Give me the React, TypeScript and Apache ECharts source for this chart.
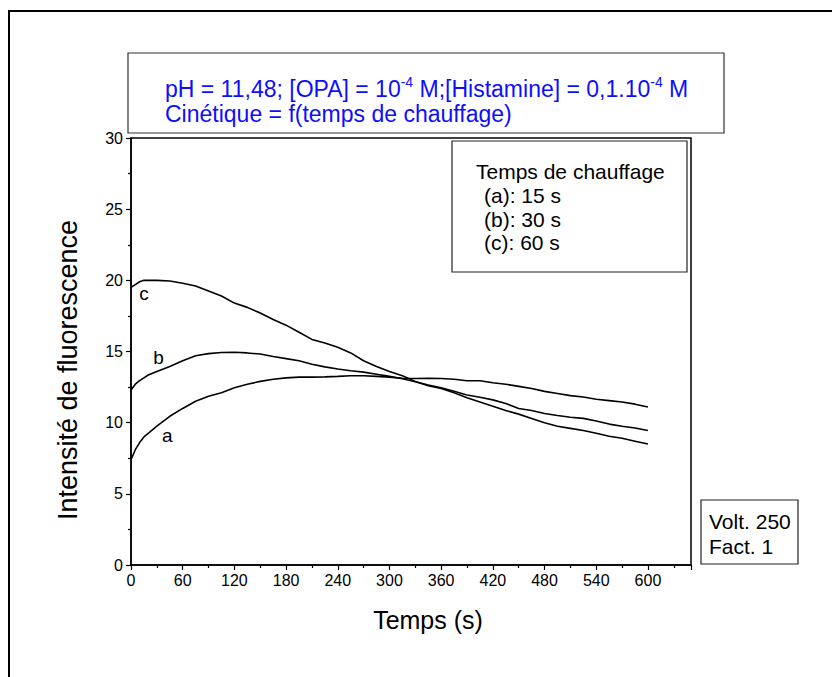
import React, { useEffect, useRef } from "react";
import * as echarts from "echarts";

const times = [0, 5, 10, 15, 20, 30, 45, 60, 75, 90, 105, 120, 135, 150, 165, 180, 195, 210, 225, 240, 255, 270, 285, 300, 315, 330, 345, 360, 375, 390, 405, 420, 435, 450, 465, 480, 495, 510, 525, 540, 555, 570, 585, 600];

const curveA = [7.4, 8.1, 8.6, 9.0, 9.25, 9.75, 10.45, 11.0, 11.5, 11.85, 12.1, 12.45, 12.7, 12.9, 13.05, 13.15, 13.2, 13.2, 13.22, 13.25, 13.3, 13.3, 13.25, 13.2, 13.12, 13.1, 13.12, 13.1, 13.05, 12.95, 12.95, 12.8, 12.7, 12.55, 12.4, 12.2, 12.05, 11.9, 11.8, 11.65, 11.55, 11.45, 11.3, 11.1];

const curveB = [12.3, 12.7, 12.95, 13.15, 13.35, 13.6, 13.95, 14.35, 14.7, 14.85, 14.93, 14.95, 14.9, 14.82, 14.65, 14.5, 14.35, 14.1, 13.92, 13.77, 13.65, 13.55, 13.4, 13.25, 13.08, 12.88, 12.65, 12.45, 12.2, 11.95, 11.78, 11.6, 11.35, 11.0, 10.85, 10.65, 10.5, 10.38, 10.3, 10.12, 9.9, 9.75, 9.62, 9.45];

const curveC = [19.5, 19.7, 19.9, 20.0, 20.0, 20.0, 19.95, 19.8, 19.6, 19.25, 18.9, 18.4, 18.1, 17.7, 17.25, 16.85, 16.35, 15.85, 15.6, 15.3, 14.9, 14.35, 13.95, 13.6, 13.3, 12.9, 12.6, 12.4, 12.1, 11.75, 11.45, 11.15, 10.85, 10.6, 10.3, 10.0, 9.75, 9.6, 9.45, 9.25, 9.05, 8.9, 8.7, 8.5];

const curveNames = ["a", "b", "c"];
const curveLabelPos = [
  [42, 9.07],
  [32, 14.55],
  [15, 19.1],
];

const xAxisTitle = "Temps (s)";
const yAxisTitle = "Intensité de fluorescence";
const legendLines = ["Temps de chauffage", "(a): 15 s", "(b): 30 s", "(c): 60 s"];
const infoLines = ["Volt. 250", "Fact. 1"];

const FONT = "'Liberation Sans', Arial, sans-serif";
const BLUE = "#0d0dff";

export default function App() {
  const ref = useRef<HTMLDivElement>(null);

  useEffect(() => {
    if (!ref.current) return;
    const chart = echarts.init(ref.current, null, { renderer: "svg" });
    const allCurves = [curveA, curveB, curveC];

    const series = allCurves.map((vals, i) => ({
      name: curveNames[i],
      type: "line",
      data: times.map((t, k) => [t, vals[k]]),
      showSymbol: false,
      symbol: "none",
      lineStyle: { color: "#000", width: 1.6 },
      itemStyle: { color: "#000" },
      silent: true,
      markPoint: {
        symbol: "circle",
        symbolSize: 0,
        silent: true,
        data: [
          {
            coord: curveLabelPos[i],
            label: {
              show: true,
              formatter: curveNames[i],
              color: "#000",
              fontFamily: FONT,
              fontSize: 19,
              position: "inside",
            },
          },
        ],
      },
    }));

    const option = {
      animation: false,
      backgroundColor: "#fff",
      textStyle: { fontFamily: FONT },
      grid: {
        left: 131,
        top: 138,
        right: 141,
        bottom: 112,
        show: true,
        borderColor: "#000",
        borderWidth: 1.5,
        backgroundColor: "transparent",
      },
      xAxis: {
        type: "value",
        min: 0,
        max: 650,
        interval: 60,
        axisLine: { show: true, onZero: false, lineStyle: { color: "#000", width: 1.5 } },
        axisTick: { show: true, inside: false, length: 5, lineStyle: { color: "#000", width: 1.2 } },
        minorTick: { show: true, splitNumber: 2, length: 3, lineStyle: { color: "#000", width: 1.2 } },
        axisLabel: { color: "#000", fontSize: 16, margin: 7, showMaxLabel: false, fontFamily: FONT },
        splitLine: { show: false },
      },
      yAxis: {
        type: "value",
        min: 0,
        max: 30,
        interval: 5,
        axisLine: { show: true, onZero: false, lineStyle: { color: "#000", width: 1.5 } },
        axisTick: { show: true, inside: false, length: 5, lineStyle: { color: "#000", width: 1.2 } },
        minorTick: { show: true, splitNumber: 2, length: 3, lineStyle: { color: "#000", width: 1.2 } },
        axisLabel: { color: "#000", fontSize: 16, margin: 8, fontFamily: FONT },
        splitLine: { show: false },
      },
      series,
      graphic: [
        {
          type: "rect",
          shape: { x: 9, y: 11, width: 900, height: 800 },
          style: { fill: "none", stroke: "#000", lineWidth: 2 },
          silent: true,
          z: 0,
        },
        {
          type: "text",
          x: 428,
          y: 620,
          silent: true,
          style: {
            text: xAxisTitle,
            fill: "#000",
            fontFamily: FONT,
            fontSize: 25,
            align: "center",
            verticalAlign: "middle",
          },
        },
        {
          type: "text",
          x: 68,
          y: 370,
          rotation: Math.PI / 2,
          silent: true,
          style: {
            text: yAxisTitle,
            fill: "#000",
            fontFamily: FONT,
            fontSize: 27,
            align: "center",
            verticalAlign: "middle",
          },
        },
        {
          type: "rect",
          shape: { x: 128, y: 53, width: 596, height: 80 },
          style: { fill: "#fff", stroke: "#333", lineWidth: 1.2 },
          silent: true,
          z: 10,
        },
        {
          type: "text",
          x: 165,
          y: 75,
          z: 11,
          silent: true,
          style: {
            text: "{n|pH = 11,48; [OPA] = 10}{s|-4}{n| M;[Histamine] = 0,1.10}{s|-4}{n| M}\n{n|Cinétique = f(temps de chauffage)}",
            fill: BLUE,
            fontFamily: FONT,
            fontSize: 23,
            rich: {
              n: { fontSize: 23, lineHeight: 25, fill: BLUE, fontFamily: FONT, verticalAlign: "bottom" },
              s: { fontSize: 14, lineHeight: 25, fill: BLUE, fontFamily: FONT, verticalAlign: "top" },
            },
          },
        },
        {
          type: "rect",
          shape: { x: 452, y: 141, width: 235, height: 131 },
          style: { fill: "#fff", stroke: "#222", lineWidth: 1.2 },
          silent: true,
          z: 10,
        },
        {
          type: "text",
          x: 476,
          y: 161,
          z: 11,
          silent: true,
          style: {
            text: legendLines[0],
            fill: "#000",
            fontFamily: FONT,
            fontSize: 21,
          },
        },
        ...legendLines.slice(1).map((line, i) => ({
          type: "text",
          x: 484,
          y: 185 + i * 23.5,
          z: 11,
          silent: true,
          style: { text: line, fill: "#000", fontFamily: FONT, fontSize: 21 },
        })),
        {
          type: "rect",
          shape: { x: 701, y: 500, width: 97, height: 64 },
          style: { fill: "#fff", stroke: "#222", lineWidth: 1.2 },
          silent: true,
          z: 10,
        },
        ...infoLines.map((line, i) => ({
          type: "text",
          x: 709,
          y: 511 + i * 25,
          z: 11,
          silent: true,
          style: { text: line, fill: "#000", fontFamily: FONT, fontSize: 21 },
        })),
      ],
    };

    chart.setOption(option as any);
    return () => chart.dispose();
  }, []);

  return (
    <div
      ref={ref}
      style={{ position: "fixed", left: 0, top: 0, width: 832, height: 677, background: "#fff" }}
    />
  );
}
